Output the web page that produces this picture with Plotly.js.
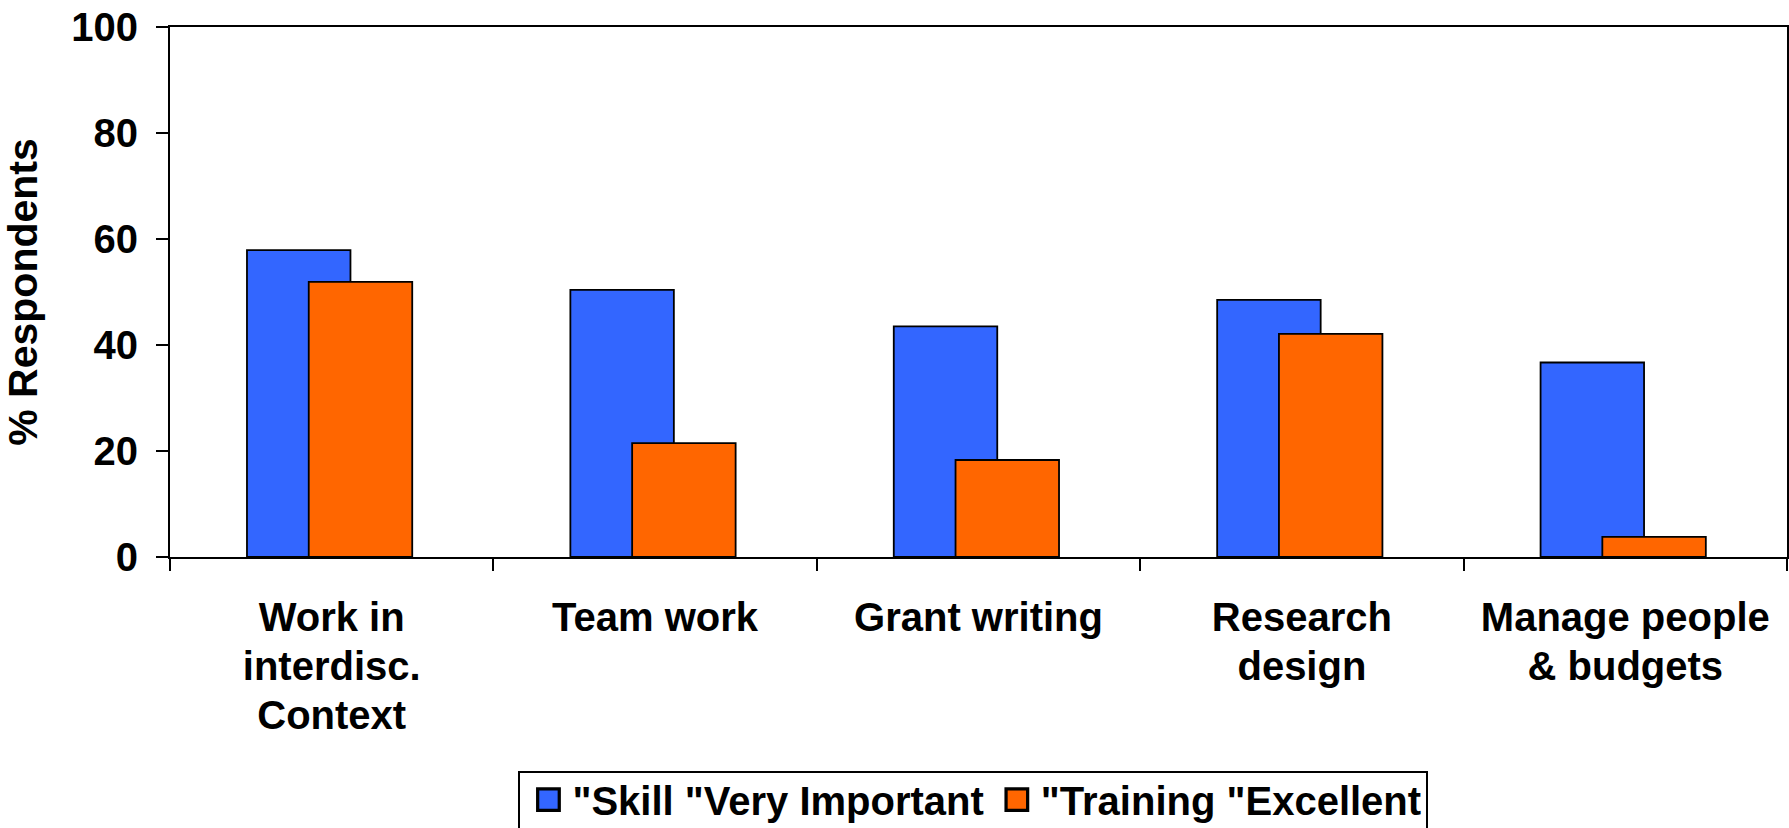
<!DOCTYPE html>
<html>
<head>
<meta charset="utf-8">
<script src="https://cdn.plot.ly/plotly-3.0.1.min.js"></script>
<style>
html,body{margin:0;padding:0;background:#fff;}
#chart{width:1789px;height:828px;}
</style>
</head>
<body>
<div id="chart"></div>
<script>
const categories = ["Work in<br>interdisc.<br>Context", "Team work", "Grant writing", "Research<br>design", "Manage people<br>& budgets"];
const skillVeryImportant = [57.9, 50.4, 43.5, 48.5, 36.7];
const trainingExcellent = [51.9, 21.5, 18.3, 42.1, 3.8];
const seriesNames = ['"Skill "Very Important', '"Training "Excellent'];
const yTicks = [0, 20, 40, 60, 80, 100];

const FONT = 'Liberation Sans, Arial, sans-serif';

const traces = [
  {
    type: 'bar', name: seriesNames[0], x: categories, y: skillVeryImportant,
    width: 0.32, offset: -0.262,
    marker: {color: '#3366FF', line: {color: '#000', width: 1.8}},
    hoverinfo: 'skip'
  },
  {
    type: 'bar', name: seriesNames[1], x: categories, y: trainingExcellent,
    width: 0.32, offset: -0.071,
    marker: {color: '#FF6600', line: {color: '#000', width: 1.8}},
    hoverinfo: 'skip'
  }
];

const layout = {
  width: 1789, height: 828,
  margin: {l: 170, r: 2, t: 27, b: 271, autoexpand: false},
  paper_bgcolor: '#fff', plot_bgcolor: '#fff',
  barmode: 'overlay',
  font: {family: FONT, size: 40, color: '#000', weight: 'bold'},
  showlegend: true,
  legend: {
    orientation: 'h', x: 0.2155, xanchor: 'left', y: -0.404, yanchor: 'top',
    bgcolor: '#fff', bordercolor: '#000', borderwidth: 2,
    font: {family: FONT, size: 40, color: '#000', weight: 'bold'},
    itemwidth: 42,
    traceorder: 'normal'
  },
  xaxis: {
    type: 'category', showline: true, linecolor: '#000', linewidth: 2, mirror: true,
    ticks: 'outside', tickson: 'boundaries', ticklen: 12, tickwidth: 2, tickcolor: '#000',
    ticklabelstandoff: 24,
    showgrid: false, zeroline: false,
    tickfont: {family: FONT, size: 40, color: '#000', weight: 'bold'},
    fixedrange: true
  },
  yaxis: {
    range: [0, 100], tickvals: yTicks, ticktext: yTicks.map(String),
    showline: true, linecolor: '#000', linewidth: 2, mirror: true,
    ticks: 'outside', ticklen: 12, tickwidth: 2, tickcolor: '#000',
    ticklabelstandoff: 10,
    showgrid: false, zeroline: false,
    tickfont: {family: FONT, size: 40, color: '#000', weight: 'bold'},
    title: {text: '% Respondents', standoff: 26, font: {family: FONT, size: 41, color: '#000', weight: 'bold'}},
    fixedrange: true
  }
};

Plotly.newPlot('chart', traces, layout, {displayModeBar: false, staticPlot: true}).then(function(gd){
  // tighter line spacing for multi-line category labels
  document.querySelectorAll('.xtick text tspan.line').forEach(function(t){
    var dy = t.getAttribute('dy');
    if(dy){
      var v = parseFloat(dy);
      if(v) t.setAttribute('dy', (v * 1.22 / 1.3) + 'em');
    }
  });
  // nudge legend entries up inside the box
  document.querySelectorAll('.legend .traces').forEach(function(item){
    var tf = item.getAttribute('transform') || '';
    item.setAttribute('transform', tf + ' translate(0,-6)');
  });
  // enlarge legend swatches and place them just left of their text
  document.querySelectorAll('.legend .traces').forEach(function(item){
    var txt = item.querySelector('text.legendtext');
    var pth = item.querySelector('.legendpoints path');
    if(!txt || !pth) return;
    var tr = txt.getBoundingClientRect();
    var pr = pth.getBoundingClientRect();
    var cx = pr.left + pr.width / 2;
    var desired = tr.left - 13 - 11;
    var base = pth.getAttribute('transform') || '';
    pth.setAttribute('transform', base + ' translate(' + (desired - cx) + ',0) scale(1.8)');
  });
});
</script>
</body>
</html>
